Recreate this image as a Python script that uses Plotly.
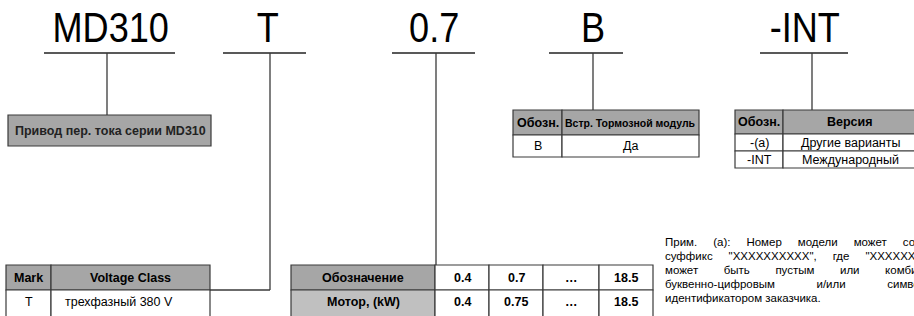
import plotly.graph_objects as go

# ---- data ----
code_parts = ["MD310", "T", "0.7", "B", "-INT"]
series_desc = "Привод пер. тока серии MD310"
voltage_header = ["Mark", "Voltage Class"]
voltage_rows = [["T", "трехфазный 380 V"]]
power_row_labels = ["Обозначение", "Мотор, (kW)"]
power_codes = ["0.4", "0.7", "…", "18.5"]
motor_kw = ["0.4", "0.75", "…", "18.5"]
brake_header = ["Обозн.", "Встр. Тормозной модуль"]
brake_rows = [["B", "Да"]]
version_header = ["Обозн.", "Версия"]
version_rows = [["-(a)", "Другие варианты"], ["-INT", "Международный"]]
note_lines = [
    ["Прим.", "(а):", "Номер", "модели", "может", "содержать"],
    ["суффикс", "\"XXXXXXXXXX\",", "где", "\"XXXXXXXXXX\""],
    ["может", "быть", "пустым", "или", "комбинированным"],
    ["буквенно-цифровым", "и/или", "символьным"],
    ["идентификатором", "заказчика."],
]
note_gaps = [5, 5, 8, 13, 1]

W, H = 914, 316
FONT = "Liberation Sans, Arial, sans-serif"
BIG = "Liberation Sans, Arial, sans-serif"
EDGE = "#3a3a3a"
DARK = "#a6a6a6"
LIGHT = "#c0c0c0"
TS = 12.5

fig = go.Figure()
shapes = []
ann = []


def rect(x0, y0, x1, y1, fill="white"):
    shapes.append(dict(type="rect", x0=x0, y0=y0, x1=x1, y1=y1, xref="x", yref="y",
                       fillcolor=fill, line=dict(color=EDGE, width=1.2), layer="below"))


def seg(x0, y0, x1, y1, color=EDGE, width=1.3):
    shapes.append(dict(type="line", x0=x0, y0=y0, x1=x1, y1=y1, xref="x", yref="y",
                       line=dict(color=color, width=width)))


def txt(x, y, s, size=TS, bold=False, anchor="center", family=FONT, color="black"):
    ann.append(dict(x=x, y=y, xref="x", yref="y", text=("<b>%s</b>" % s) if bold else s,
                    showarrow=False, xanchor=anchor, yanchor="middle",
                    font=dict(family=family, size=size, color=color)))


# ---- big code parts with underlines and leaders ----
big_pos = [(110, 44, 175), (268, 223, 306), (434, 392, 475), (593, 549, 623), (805, 760, 848)]
for label, (cx, ux0, ux1) in zip(code_parts, big_pos):
    txt(cx, 27, label, size=42, family=BIG)
    seg(ux0, 53, ux1, 53, color="#222", width=1.5)

# MD310 -> series box
seg(107, 53, 107, 115)
rect(8, 115, 211, 146, DARK)
txt(110, 131, series_desc, size=12.5, bold=True, color="#222")

# T -> voltage table
seg(270, 53, 270, 290)
seg(210, 290, 270, 290)
vx = [6, 51, 210]
rect(vx[0], 265, vx[1], 290, DARK)
rect(vx[1], 265, vx[2], 290, DARK)
txt((vx[0] + vx[1]) / 2, 278, voltage_header[0], bold=True)
txt((vx[1] + vx[2]) / 2, 278, voltage_header[1], bold=True)
for i, row in enumerate(voltage_rows):
    y0 = 290 + 25 * i
    rect(vx[0], y0, vx[1], y0 + 30)
    rect(vx[1], y0, vx[2], y0 + 30)
    txt((vx[0] + vx[1]) / 2, y0 + 12, row[0])
    txt(63, y0 + 12, row[1], anchor="left")

# 0.7 -> power table
seg(436, 53, 436, 265)
px = [291, 435, 489, 543, 599, 653]
rect(px[0], 265, px[1], 290, DARK)
rect(px[0], 290, px[1], 320, LIGHT)
txt((px[0] + px[1]) / 2, 278, power_row_labels[0], bold=True)
txt((px[0] + px[1]) / 2, 302, power_row_labels[1], bold=True)
for j in range(len(power_codes)):
    rect(px[j + 1], 265, px[j + 2], 290)
    rect(px[j + 1], 290, px[j + 2], 320)
    txt((px[j + 1] + px[j + 2]) / 2, 278, power_codes[j], bold=True)
    txt((px[j + 1] + px[j + 2]) / 2, 302, motor_kw[j], bold=True)

# B -> brake table
seg(593, 53, 593, 110)
bx = [513, 562, 699]
rect(bx[0], 110, bx[1], 135, DARK)
rect(bx[1], 110, bx[2], 135, DARK)
txt((bx[0] + bx[1]) / 2, 123, brake_header[0], bold=True)
txt((bx[1] + bx[2]) / 2, 123, brake_header[1], bold=True, size=10.5)
for i, row in enumerate(brake_rows):
    y0 = 135 + 22 * i
    rect(bx[0], y0, bx[1], y0 + 22)
    rect(bx[1], y0, bx[2], y0 + 22)
    txt((bx[0] + bx[1]) / 2, y0 + 11, row[0])
    txt((bx[1] + bx[2]) / 2, y0 + 11, row[1])

# -INT -> version table
seg(812, 53, 812, 110)
ix = [735, 783, 917]
rect(ix[0], 110, ix[1], 134, DARK)
rect(ix[1], 110, ix[2], 134, DARK)
txt((ix[0] + ix[1]) / 2, 122, version_header[0], bold=True)
txt((ix[1] + ix[2]) / 2, 122, version_header[1], bold=True)
for i, row in enumerate(version_rows):
    y0 = 134 + 17 * i
    rect(ix[0], y0, ix[1], y0 + 17)
    rect(ix[1], y0, ix[2], y0 + 17)
    txt((ix[0] + ix[1]) / 2, y0 + 9, row[0])
    txt((ix[1] + ix[2]) / 2, y0 + 9, row[1])

# note (justified look via extra spaces)
for k, (words, g) in enumerate(zip(note_lines, note_gaps)):
    sep = " " + "&nbsp;" * (g - 1) if g > 1 else " "
    txt(663, 242 + 14 * k, sep.join(words), size=11.5, anchor="left")

fig.update_layout(
    width=W, height=H, margin=dict(l=0, r=0, t=0, b=0),
    paper_bgcolor="white", plot_bgcolor="white",
    xaxis=dict(range=[0, W], visible=False, fixedrange=True),
    yaxis=dict(range=[H, 0], visible=False, fixedrange=True),
    shapes=shapes, annotations=ann, showlegend=False,
)
post = (
    "document.body.style.margin='0';document.body.style.overflow='hidden';"
    "document.querySelectorAll('text.annotation-text').forEach(function(t){"
    "if(parseFloat(t.style.fontSize)>30){t.style.transformBox='fill-box';"
    "t.style.transformOrigin='center';t.style.transform='scaleX(0.86)';}});"
)
fig.write_html("out.html", config={"staticPlot": True}, post_script=post)
